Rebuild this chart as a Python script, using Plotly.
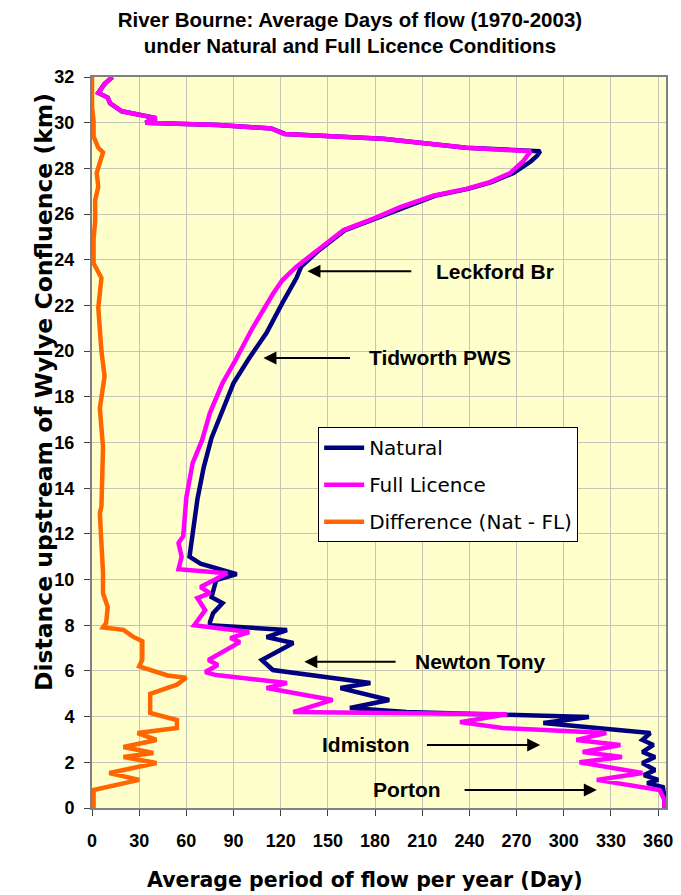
import plotly.graph_objects as go

# Natural conditions: distance upstream (km) and average days of flow
nat_km = [0.0, 0.5, 0.92, 1.09, 1.23, 1.44, 1.66, 1.97, 2.23, 2.45, 2.76, 2.98, 3.28, 3.72, 3.98,
          4.2, 4.38, 4.73, 5.25, 5.47, 6.04, 6.48, 7.22, 7.48, 7.79, 8.0, 8.14, 8.53, 8.97, 9.23,
          9.98, 10.24, 10.7, 11.0, 12.0, 13.5, 14.9, 16.2, 17.4, 18.6, 19.7, 20.8, 22.1, 23.2,
          23.7, 24.4, 25.3, 25.8, 26.3, 26.8, 27.1, 27.4, 27.8, 28.3, 28.55, 28.75, 28.9, 29.3,
          29.5, 29.75, 29.9, 30.0, 30.2, 30.5, 30.85, 31.1, 31.3, 31.7, 32.0]
nat_days = [364, 364, 363, 353, 360, 351, 358, 350, 358, 350, 357, 350, 355, 287, 316,
            200, 164, 189, 158, 177, 115, 108, 128, 111, 124, 75, 75, 77, 83, 76,
            79, 92, 69, 62, 64, 67, 71, 76, 83, 90, 100, 111, 121, 130,
            133, 144, 161, 180, 197, 218, 239, 254, 268, 279, 283, 285, 238, 185,
            123, 114, 80, 34, 41, 19, 11.5, 10, 4, 8, 13]

# Full licence conditions
fl_km = [0.0, 0.35, 0.79, 1.23, 1.53, 2.0, 2.23, 2.45, 2.76, 2.98, 3.28, 3.5, 3.76, 4.1, 4.2,
         4.73, 5.25, 5.47, 5.82, 5.95, 6.26, 6.48, 7.26, 7.44, 7.7, 8.0, 8.66, 9.19, 9.41, 9.67,
         10.28, 10.45, 11.0, 11.6, 11.9, 13.6, 15.1, 16.1, 17.3, 18.6, 19.7, 21.0, 22.5, 23.1,
         23.7, 24.4, 25.3, 25.8, 26.3, 26.8, 27.1, 27.4, 27.8, 28.3, 28.55, 28.75, 28.9, 29.3,
         29.5, 29.75, 29.9, 30.0, 30.2, 30.5, 30.85, 31.1, 31.3, 31.7, 32.0]
fl_days = [364, 364, 361, 321, 350, 310, 337, 312, 336, 308, 327, 261, 234, 264, 128,
           153, 111, 124, 79, 72, 80, 74, 94, 88, 100, 65, 72, 67, 75, 69,
           86, 55, 57, 55, 58, 60, 64, 70, 75, 83, 92, 102, 115, 121,
           130, 143, 160, 179, 196, 217, 238, 253, 266, 274, 277, 279, 238, 185,
           122, 114, 80, 34, 41, 19, 11.5, 10, 4, 8, 13]

# Difference (Nat - FL)
diff_km = [0.0, 0.2, 0.79, 1.23, 1.53, 1.97, 2.23, 2.41, 2.67, 2.98, 3.28, 3.5, 3.85, 4.16,
           5.0, 5.4, 5.7, 5.8, 6.2, 6.5, 7.3, 7.5, 7.8, 7.9, 8.1, 8.8, 9.4, 10.3, 11.4, 12.9,
           13.2, 15.8, 17.5, 18.9, 20.0, 21.9, 23.2, 23.85, 24.9, 25.7, 26.6, 27.2, 27.8, 28.2,
           28.7, 28.9, 29.4, 30.1, 30.7, 32.0]
diff_days = [1, 1, 1, 30, 11, 41, 20, 39, 20, 41, 29, 54, 54, 37,
             37, 54, 60, 48, 30, 32, 32, 26, 20, 7, 9, 10, 7, 7, 6, 5,
             6, 7, 5, 8, 6, 4, 6, 1, 1, 2, 2, 4, 3, 5,
             7, 4, 1, 1, 0, 0]

x_ticks = list(range(0, 361, 30))
y_ticks = list(range(0, 33, 2))

FONT = "Arial, Liberation Sans, sans-serif"
WIDE = "DejaVu Sans, Arial, sans-serif"

fig = go.Figure()
fig.add_trace(go.Scatter(x=nat_days, y=nat_km, name="Natural", mode="lines",
                         line=dict(color="#000080", width=4.5), legendgroup="a"))
fig.add_trace(go.Scatter(x=fl_days, y=fl_km, name="Full Licence", mode="lines",
                         line=dict(color="#ff00ff", width=4.5), legendgroup="b"))
fig.add_trace(go.Scatter(x=diff_days, y=diff_km, name="Difference (Nat - FL)", mode="lines",
                         line=dict(color="#ff6600", width=4.5), legendgroup="c"))

# labels with arrows: (text, text_x, arrow tail x, arrow head x, y)
labels = [("Leckford Br", 256, 204, 137, 23.5),
          ("Tidworth PWS", 221, 165, 109, 19.7),
          ("Newton Tony", 247, 194, 135, 6.4),
          ("Idmiston", 174, 212, 285, 2.76),
          ("Porton", 200, 236, 321, 0.79)]
for txt, tx, ax, hx, yy in labels:
    fig.add_annotation(x=tx, y=yy, text=txt, showarrow=False,
                       font=dict(family=FONT, size=21, color="black", weight="bold"))
    fig.add_annotation(x=hx, y=yy, ax=ax, ay=yy, axref="x", ayref="y", text="",
                       showarrow=True, arrowhead=2, arrowsize=1.3, arrowwidth=2,
                       arrowcolor="black")

# axis titles placed as annotations
fig.add_annotation(xref="paper", yref="paper", x=0.4756, y=-0.117,
                   text="Average period of flow per year (Day)", showarrow=False,
                   font=dict(family=WIDE, size=20.5, color="black", weight="bold"))
fig.add_annotation(xref="paper", yref="paper", x=-0.1115, y=0.569, textangle=-90,
                   text="Distance upstream of Wylye Confluence (km)", showarrow=False,
                   font=dict(family=WIDE, size=23.5, color="black", weight="bold"))

fig.update_layout(
    width=673, height=887,
    margin=dict(l=84, r=15, t=69, b=87),
    paper_bgcolor="white", plot_bgcolor="#ffffcc",
    title=dict(text="River Bourne: Average Days of flow (1970-2003)<br>under Natural and Full Licence Conditions",
               x=0.508, xanchor="center", y=0.979, yanchor="top",
               font=dict(family=FONT, size=20.5, color="black", weight="bold")),
    legend=dict(x=0.394, y=0.521, xanchor="left", yanchor="top",
                bgcolor="white", bordercolor="black", borderwidth=1,
                font=dict(family=WIDE, size=20, color="black"),
                tracegroupgap=8, itemwidth=40),
    showlegend=True,
)
fig.update_xaxes(range=[0, 365], tickvals=x_ticks, showgrid=True, gridcolor="#c4c4b8",
                 gridwidth=1, zeroline=False, showline=True, linecolor="#808080", linewidth=2,
                 mirror=True, ticks="outside", ticklen=6, tickcolor="#404040", automargin=False,
                 ticklabelstandoff=9,
                 tickfont=dict(family=FONT, size=18, color="black", weight="bold"))
fig.update_yaxes(range=[0, 32], tickvals=y_ticks, showgrid=True, gridcolor="#c4c4b8",
                 gridwidth=1, zeroline=False, showline=True, linecolor="#808080", linewidth=2,
                 mirror=True, ticks="outside", ticklen=6, tickcolor="#404040", automargin=False,
                 ticklabelstandoff=6,
                 tickfont=dict(family=FONT, size=18, color="black", weight="bold"))

fig.write_html("out.html")
